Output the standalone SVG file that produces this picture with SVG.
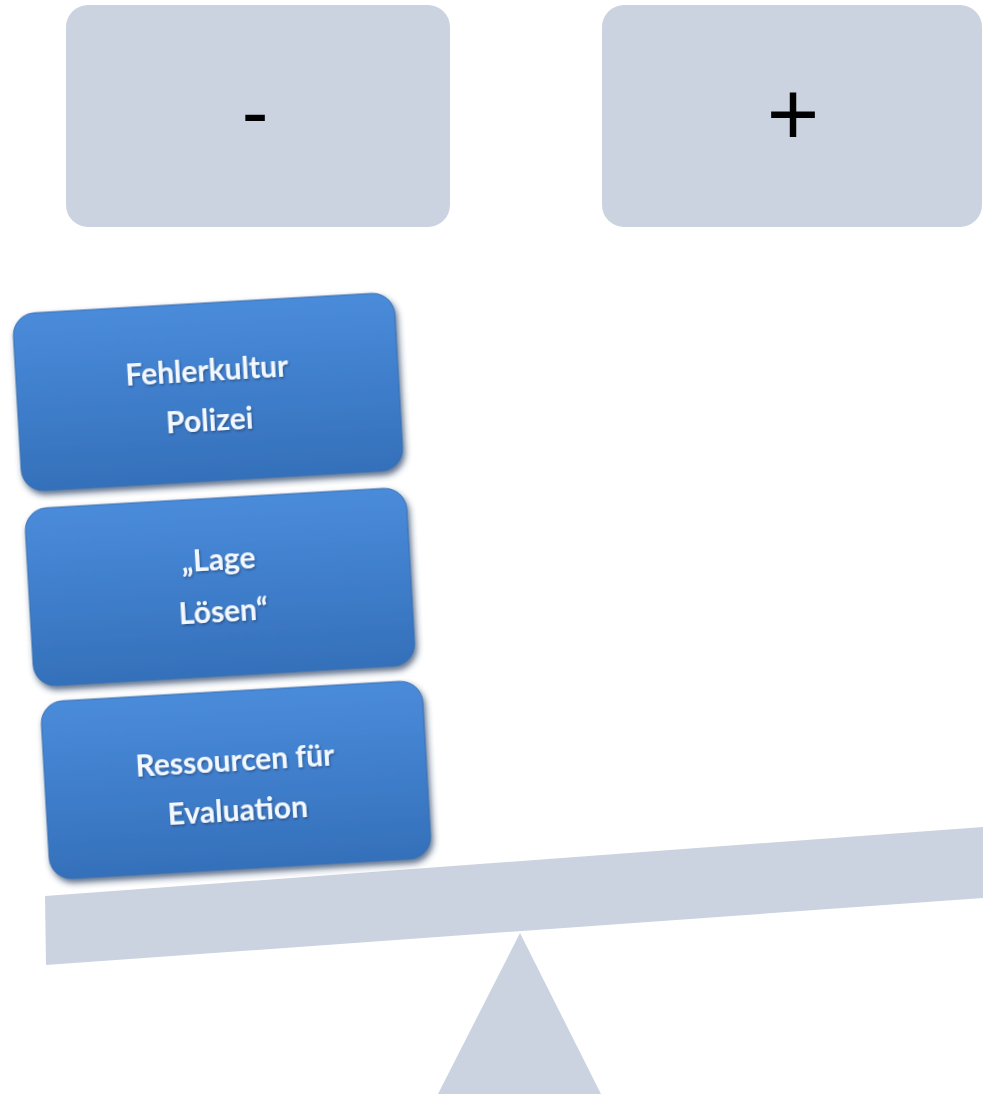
<svg xmlns="http://www.w3.org/2000/svg" width="983" height="1094" viewBox="0 0 983 1094">
<style>
.gray{fill:#CCD3E0}
.sign{font-family:"Liberation Sans",Arial,sans-serif;fill:#000;text-anchor:middle}
.lbl{font-family:Lato,"Liberation Sans",sans-serif;font-weight:bold;font-size:30px;fill:#F2F8FF;text-anchor:middle}
.blue{fill:url(#bg);stroke:#3a6fb0;stroke-width:1}
</style>
<defs>
<linearGradient id="bg" x1="0" y1="0" x2="0" y2="1">
<stop offset="0" stop-color="#4A8BDA"/>
<stop offset="0.5" stop-color="#3F7ECB"/>
<stop offset="1" stop-color="#3570BA"/>
</linearGradient>
<filter id="sh" x="-10%" y="-10%" width="120%" height="130%">
<feDropShadow dx="2" dy="4" stdDeviation="3" flood-color="#1c3558" flood-opacity="0.7"/>
</filter>
<filter id="ts" x="-10%" y="-20%" width="120%" height="150%">
<feDropShadow dx="1" dy="1.5" stdDeviation="1" flood-color="#1c3558" flood-opacity="0.6"/>
</filter>
</defs>
<g id="minus-box">
<rect class="gray" x="66" y="5" width="384" height="222" rx="22"/>
<text class="sign" x="255" y="139" font-size="80">-</text>
</g>
<g id="plus-box">
<rect class="gray" x="602" y="5" width="380" height="222" rx="22"/>
<text class="sign" x="793" y="145" font-size="90">+</text>
</g>
<g id="beam">
<polygon class="gray" points="45,896 983,827 983,898 46,965"/>
</g>
<g id="fulcrum">
<polygon class="gray" points="520,933 438,1094 601,1094"/>
</g>
<g id="box-fehlerkultur" transform="rotate(-3.3 208 392)">
<rect class="blue" x="17" y="303" width="382" height="178" rx="22" filter="url(#sh)"/>
<text class="lbl" x="208" y="381" filter="url(#ts)">Fehlerkultur</text>
<text class="lbl" x="208" y="431" filter="url(#ts)">Polizei</text>
</g>
<g id="box-lage" transform="rotate(-3.3 220 587)">
<rect class="blue" x="29" y="498" width="382" height="178" rx="22" filter="url(#sh)"/>
<text class="lbl" x="220" y="570" filter="url(#ts)">„Lage</text>
<text class="lbl" x="222" y="622" filter="url(#ts)">Lösen“</text>
</g>
<g id="box-ressourcen" transform="rotate(-3.3 236 780)">
<rect class="blue" x="45" y="691" width="382" height="178" rx="22" filter="url(#sh)"/>
<text class="lbl" x="236" y="771" filter="url(#ts)">Ressourcen für</text>
<text class="lbl" x="236" y="821" filter="url(#ts)">Evaluation</text>
</g>
<g id="connectors"/>
</svg>
